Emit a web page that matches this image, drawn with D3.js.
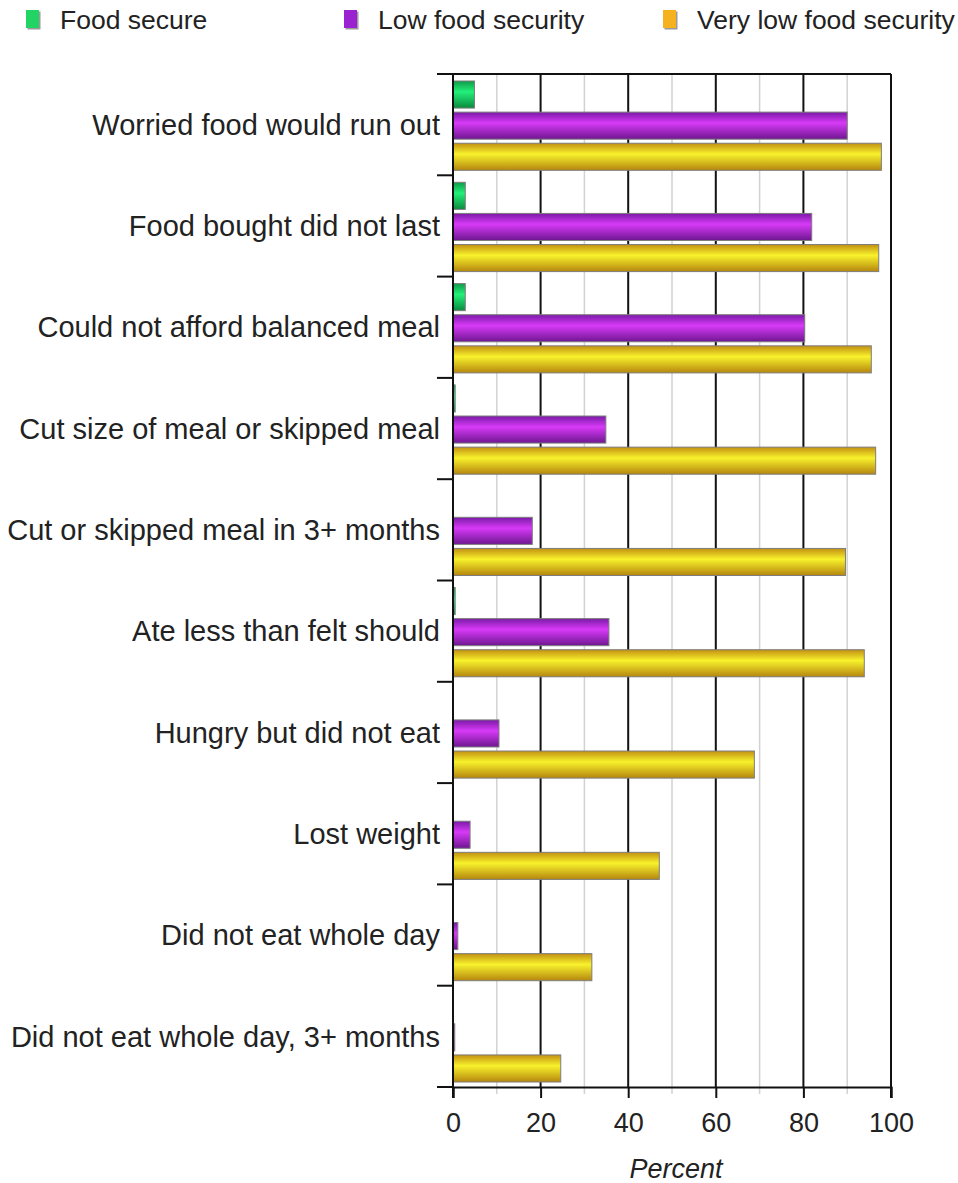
<!DOCTYPE html>
<html>
<head>
<meta charset="utf-8">
<script src="https://cdn.jsdelivr.net/npm/d3@7"></script>
<style>
  body { margin: 0; background: #fff; }
  svg text { font-family: "Liberation Sans", Arial, sans-serif; fill: #222; }
</style>
</head>
<body>
<script>
// categories (top to bottom)
var categories = [
  "Worried food would run out",
  "Food bought did not last",
  "Could not afford balanced meal",
  "Cut size of meal or skipped meal",
  "Cut or skipped meal in 3+ months",
  "Ate less than felt should",
  "Hungry but did not eat",
  "Lost weight",
  "Did not eat whole day",
  "Did not eat whole day, 3+ months"
];

// series values (percent)
var foodSecure   = [4.9, 2.8, 2.8, 0.5, 0, 0.5, 0, 0, 0, 0];
var lowSecurity  = [90.0, 81.9, 80.3, 34.9, 18.1, 35.6, 10.5, 3.9, 1.1, 0.4];
var veryLowSecurity = [97.8, 97.2, 95.5, 96.5, 89.6, 93.9, 68.8, 47.1, 31.7, 24.6];

var seriesNames = ["Food secure", "Low food security", "Very low food security"];
var xTicks = [0, 20, 40, 60, 80, 100];
var xMinor = [10, 30, 50, 70, 90];

var W = 958, H = 1183;
var plot = {left: 453, right: 891, top: 74, bottom: 1087};

var svg = d3.select("body").append("svg")
    .attr("width", W).attr("height", H);

// gradients for the shiny bars
var grads = [
  {id: "g0", top: "#0f9a48", mid: "#22f07a", bot: "#0c8a3e"},
  {id: "g1", top: "#7a1aa6", mid: "#d73af7", bot: "#6e1690"},
  {id: "g2", top: "#c29012", mid: "#f8f22c", bot: "#b5860e"}
];
var defs = svg.append("defs");
grads.forEach(function(g){
  var lg = defs.append("linearGradient").attr("id", g.id)
      .attr("x1", 0).attr("y1", 0).attr("x2", 0).attr("y2", 1);
  lg.append("stop").attr("offset", "0%").attr("stop-color", g.top);
  lg.append("stop").attr("offset", "40%").attr("stop-color", g.mid);
  lg.append("stop").attr("offset", "100%").attr("stop-color", g.bot);
});

var x = d3.scaleLinear().domain([0, 100]).range([plot.left, plot.right]);
var y = d3.scaleBand().domain(categories).range([plot.top, plot.bottom]);
var inner = d3.scaleBand().domain(seriesNames)
    .range([7, y.bandwidth() - 5]).paddingInner(0.13);

// minor gridlines
svg.append("g").selectAll("line").data(xMinor).enter().append("line")
  .attr("x1", function(d){ return x(d); }).attr("x2", function(d){ return x(d); })
  .attr("y1", plot.top).attr("y2", plot.bottom + 7)
  .attr("stroke", "#d2d2d2").attr("stroke-width", 1.5);

// major gridlines
svg.append("g").selectAll("line").data(xTicks.slice(1, -1)).enter().append("line")
  .attr("x1", function(d){ return x(d); }).attr("x2", function(d){ return x(d); })
  .attr("y1", plot.top).attr("y2", plot.bottom)
  .attr("stroke", "#111").attr("stroke-width", 2);

// bars
var rows = categories.map(function(c, i){
  return {cat: c, vals: [foodSecure[i], lowSecurity[i], veryLowSecurity[i]]};
});
var groups = svg.append("g").selectAll("g").data(rows).enter().append("g")
  .attr("transform", function(d){ return "translate(0," + y(d.cat) + ")"; });

groups.selectAll("rect").data(function(d){
    return d.vals.map(function(v, k){ return {v: v, k: k}; })
      .filter(function(e){ return e.v > 0; });
  }).enter().append("rect")
  .attr("x", x(0))
  .attr("y", function(d){ return inner(seriesNames[d.k]); })
  .attr("width", function(d){ return Math.max(x(d.v) - x(0), 1); })
  .attr("height", inner.bandwidth())
  .attr("fill", function(d){ return "url(#g" + d.k + ")"; })
  .attr("stroke", "#7d7d7d").attr("stroke-width", 1);

// frame: top and right border
svg.append("line").attr("x1", plot.left).attr("x2", plot.right)
  .attr("y1", plot.top).attr("y2", plot.top).attr("stroke", "#111").attr("stroke-width", 2);
svg.append("line").attr("x1", plot.right).attr("x2", plot.right)
  .attr("y1", plot.top).attr("y2", plot.bottom + 11).attr("stroke", "#111").attr("stroke-width", 2);

// left axis with category boundary ticks
svg.append("line").attr("x1", plot.left).attr("x2", plot.left)
  .attr("y1", plot.top).attr("y2", plot.bottom + 11).attr("stroke", "#111").attr("stroke-width", 2);
var bounds = categories.map(function(c){ return y(c); }).concat([plot.bottom]);
svg.append("g").selectAll("line").data(bounds).enter().append("line")
  .attr("x1", plot.left - 16).attr("x2", plot.left)
  .attr("y1", function(d){ return d; }).attr("y2", function(d){ return d; })
  .attr("stroke", "#111").attr("stroke-width", 2);

// category labels
svg.append("g").selectAll("text").data(categories).enter().append("text")
  .attr("x", plot.left - 13)
  .attr("y", function(d){ return y(d) + y.bandwidth() / 2; })
  .attr("dy", "0.35em")
  .attr("text-anchor", "end")
  .attr("font-size", 29)
  .text(function(d){ return d; });

// bottom axis
var xAxis = d3.axisBottom(x).tickValues(xTicks).tickSize(11).tickPadding(15);
var ax = svg.append("g").attr("transform", "translate(0," + plot.bottom + ")").call(xAxis);
ax.select(".domain").attr("stroke", "#111").attr("stroke-width", 2);
ax.selectAll(".tick line").attr("stroke", "#111").attr("stroke-width", 2);
ax.selectAll(".tick text").attr("font-size", 27).attr("fill", "#222")
  .style("font-family", "Liberation Sans, Arial, sans-serif");

svg.append("text").attr("x", x(50) + 4).attr("y", 1178)
  .attr("text-anchor", "middle").attr("font-size", 27).attr("font-style", "italic")
  .text("Percent");

// legend
var legendX = [26, 344, 663];
var legendCol = ["#22d464", "#9a22d0", "#f6b21e"];
var lg = svg.append("g").selectAll("g").data(seriesNames).enter().append("g")
  .attr("transform", function(d, i){ return "translate(" + legendX[i] + ",0)"; });
lg.append("rect").attr("x", 1.5).attr("y", 11.5).attr("width", 13).attr("height", 18)
  .attr("fill", "#9a9a9a");
lg.append("rect").attr("x", 0).attr("y", 10).attr("width", 13).attr("height", 18)
  .attr("fill", function(d, i){ return legendCol[i]; });
lg.append("text").attr("x", 34).attr("y", 29).attr("font-size", 26.5)
  .text(function(d){ return d; });
</script>
</body>
</html>
